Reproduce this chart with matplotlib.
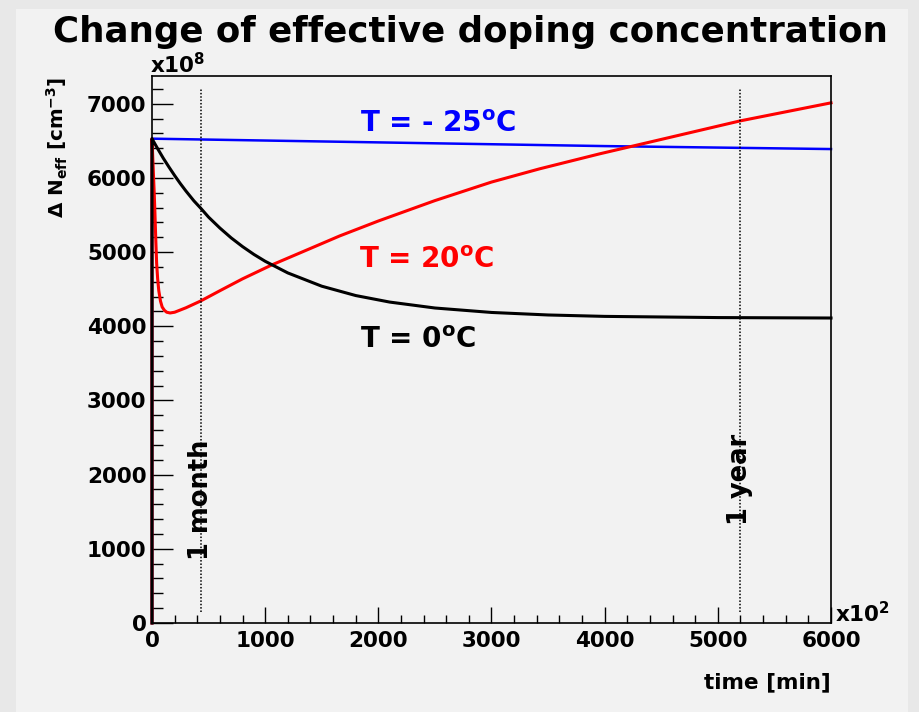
import matplotlib
matplotlib.use("Agg")
import matplotlib.pyplot as plt
from matplotlib.patches import Rectangle
from matplotlib.ticker import MultipleLocator

plt.rcParams['font.family'] = ['DejaVu Sans']
plt.rcParams['font.weight'] = 'bold'
plt.rcParams['mathtext.fontset'] = 'dejavusans'
plt.rcParams['mathtext.default'] = 'bf'

# time in units of 10^2 min, delta N_eff in units of 10^8 cm^-3
t_cold = [0, 0, 1000, 2000, 3000, 4000, 5000, 6000]
n_cold = [0, 6530, 6505, 6480, 6455, 6430, 6410, 6390]

t_warm = [0, 0, 3, 6, 10, 15, 20, 26, 34, 41, 50, 60, 75, 90, 110, 130, 160,
          200, 300, 432, 600, 800, 1059, 1400, 1659, 2000, 2500, 3000, 3424,
          3954, 4500, 5198, 6000]
n_warm = [0, 6530, 6420, 6300, 6150, 5960, 5780, 5520, 5140, 4850, 4640, 4480,
          4340, 4260, 4215, 4190, 4180, 4190, 4250, 4343, 4480, 4640, 4828,
          5050, 5219, 5420, 5695, 5945, 6123, 6325, 6520, 6770, 7013]

t_zero = [0, 0, 25, 50, 100, 150, 200, 250, 300, 370, 432, 500, 600, 700,
          800, 900, 1000, 1200, 1500, 1800, 2100, 2500, 3000, 3500, 4000,
          5000, 6000]
n_zero = [0, 6530, 6462, 6395, 6266, 6147, 6033, 5925, 5824, 5692, 5590,
          5472, 5325, 5192, 5075, 4970, 4877, 4720, 4541, 4415, 4327, 4247,
          4187, 4153, 4134, 4118, 4112]

t_month = 432
t_year = 5200
marker_span = [150, 7200]

fig = plt.figure(figsize=(9.2, 7.12), dpi=100)
fig.patch.set_facecolor('#e8e8e8')
fig.patches.append(Rectangle((16 / 920, 0), 892 / 920, 703 / 712,
                             transform=fig.transFigure, facecolor='#f2f2f2',
                             edgecolor='none', zorder=-1))

ax = fig.add_axes([152 / 920, 89 / 712, 679 / 920, 547 / 712])
ax.set_facecolor('#f2f2f2')

ax.plot(t_cold, n_cold, color='#0000ff', lw=1.8, clip_on=False)
ax.plot(t_warm, n_warm, color='#ff0000', lw=2.2, clip_on=False)
ax.plot(t_zero, n_zero, color='black', lw=2.2, clip_on=False)

ax.plot([t_month, t_month], marker_span, color='black', lw=1.1, ls=(0, (1, 1.2)))
ax.plot([t_year, t_year], marker_span, color='black', lw=1.1, ls=(0, (1, 1.2)))

ax.text(t_month, 850, '1 month', rotation=90, ha='center', va='bottom',
        fontsize=18.5, fontweight='bold')
ax.text(t_year, 1320, '1 year', rotation=90, ha='center', va='bottom',
        fontsize=18.5, fontweight='bold')

ax.text(1840, 6622, r'T = - 25$^{o}$C', color='#0000ff', fontsize=20,
        fontweight='bold', va='baseline')
ax.text(1830, 4788, r'T = 20$^{o}$C', color='#ff0000', fontsize=20,
        fontweight='bold', va='baseline')
ax.text(1840, 3709, r'T = 0$^{o}$C', color='black', fontsize=20,
        fontweight='bold', va='baseline')

ax.set_xlim(0, 6000)
ax.set_ylim(0, 7375)
ax.xaxis.set_major_locator(MultipleLocator(1000))
ax.xaxis.set_minor_locator(MultipleLocator(200))
ax.yaxis.set_major_locator(MultipleLocator(1000))
ax.yaxis.set_minor_locator(MultipleLocator(200))
ax.tick_params(axis='both', which='both', direction='in', top=False,
               right=False, labelsize=15.5, width=1.0)
ax.tick_params(axis='x', which='major', length=11.5, pad=6)
ax.tick_params(axis='x', which='minor', length=5.8)
ax.tick_params(axis='y', which='major', length=15, pad=4)
ax.tick_params(axis='y', which='minor', length=8)
for lab in ax.get_xticklabels() + ax.get_yticklabels():
    lab.set_fontweight('bold')
for sp in ax.spines.values():
    sp.set_linewidth(1.2)
    sp.set_zorder(3)

fig.text(470 / 920, 1 - 42 / 712, 'Change of effective doping concentration',
         ha='center', va='baseline', fontsize=25.7, fontweight='bold')
fig.text(150 / 920, 1 - 73 / 712, r'x10$^{8}$', ha='left', va='baseline',
         fontsize=15.5, fontweight='bold')
fig.text(835 / 920, 1 - 622 / 712, r'x10$^{2}$', ha='left', va='baseline',
         fontsize=15.5, fontweight='bold')
fig.text(831 / 920, 1 - 688 / 712, 'time [min]', ha='right', va='baseline',
         fontsize=15.5, fontweight='bold')
fig.text(57 / 920, 1 - 77 / 712, r'$\mathrm{\Delta}$ N$_{eff}$ [cm$^{-3}$]',
         rotation=90, ha='center', va='top', fontsize=14.3, fontweight='bold')

fig.savefig('out.png', dpi=100, facecolor=fig.get_facecolor())
